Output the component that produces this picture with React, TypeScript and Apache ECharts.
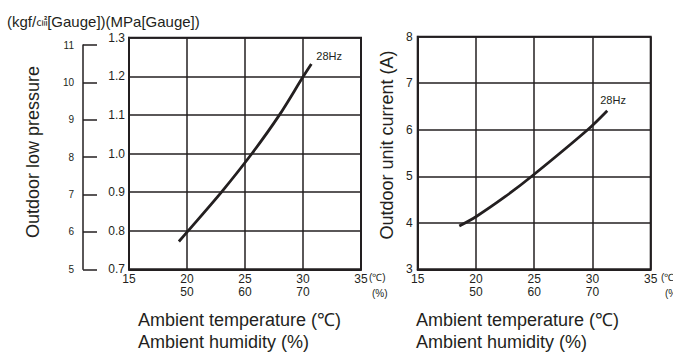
import React, { useEffect, useRef } from "react";
import * as echarts from "echarts";

const X_MIN = 15;
const X_MAX = 35;
const X_STEP = 5;
const HUMIDITY_BY_TEMP: Record<number, string> = { 20: "50", 25: "60", 30: "70" };

const PRESSURE_MPA_MIN = 0.7;
const PRESSURE_MPA_MAX = 1.3;
const PRESSURE_KGF_MIN = 5;
const PRESSURE_KGF_MAX = 11;
const CURRENT_MIN = 3;
const CURRENT_MAX = 8;

const pressureTemps = [19.3, 20.11, 22.97, 25.6, 27.97, 30.03, 30.72];
const pressureValues = [0.772, 0.8, 0.9, 1.0, 1.1, 1.2, 1.232];
const currentTemps = [18.57, 20, 22.5, 24.79, 29.59, 31.27];
const currentValues = [3.93, 4.13, 4.56, 5.0, 6.0, 6.41];

const seriesName = "28Hz";
const titleParts = ["(kgf/", "㎠", "[Gauge])(MPa[Gauge])"];
const leftYName = "Outdoor low pressure";
const rightYName = "Outdoor unit current (A)";
const xName1 = "Ambient temperature (℃)";
const xName2 = "Ambient humidity (%)";

const INK = "#231f20";
const FONT = "Liberation Sans, Arial, Helvetica, sans-serif";

function xLabel(v: number) {
  const h = HUMIDITY_BY_TEMP[v];
  return h ? `${v}\n${h}` : `${v}`;
}

export default function App() {
  const ref = useRef<HTMLDivElement>(null);
  useEffect(() => {
    document.body.style.margin = "0";
    const chart = echarts.init(ref.current!, null, { renderer: "svg" });
    const xAxisBase = (gridIndex: number) => ({
      type: "value",
      gridIndex,
      min: X_MIN,
      max: X_MAX,
      interval: X_STEP,
      axisLine: { show: true, lineStyle: { color: INK, width: 2 } },
      axisTick: { show: false },
      splitLine: { show: true, lineStyle: { color: INK, width: 1.5 } },
      axisLabel: {
        formatter: xLabel,
        color: INK,
        fontFamily: FONT,
        fontSize: 12,
        lineHeight: 13,
        margin: 3,
        showMaxLabel: true,
        showMinLabel: true,
      },
    });
    const lineSeries = (axisIndex: number, xs: number[], ys: number[], offset: number[]) => ({
      type: "line",
      name: seriesName,
      xAxisIndex: axisIndex,
      yAxisIndex: axisIndex,
      data: xs.map((t, i) => [t, ys[i]]),
      smooth: 0.3,
      showSymbol: false,
      lineStyle: { color: INK, width: 2.8 },
      endLabel: { show: true, formatter: seriesName, color: INK, fontSize: 11, fontFamily: FONT, offset },
    });
    chart.setOption({
      animation: false,
      backgroundColor: "#ffffff",
      textStyle: { fontFamily: FONT },
      grid: [
        { left: 129, top: 37.7, width: 232, height: 231.6, show: true, borderColor: INK, borderWidth: 2, backgroundColor: "transparent" },
        { left: 83, top: 45, width: 14, height: 224.3, show: false },
        { left: 417.7, top: 36.7, width: 233, height: 232.6, show: true, borderColor: INK, borderWidth: 2, backgroundColor: "transparent" },
      ],
      xAxis: [
        xAxisBase(0),
        { type: "value", gridIndex: 1, min: 0, max: 1, show: false },
        xAxisBase(2),
      ],
      yAxis: [
        {
          type: "value",
          gridIndex: 0,
          min: PRESSURE_MPA_MIN,
          max: PRESSURE_MPA_MAX,
          interval: 0.1,
          axisLine: { show: true, lineStyle: { color: INK, width: 2 } },
          axisTick: { show: false },
          splitLine: { show: true, lineStyle: { color: INK, width: 1.5 } },
          axisLabel: { formatter: (v: number) => v.toFixed(1), color: INK, fontSize: 12, margin: 4, fontFamily: FONT },
        },
        {
          type: "value",
          gridIndex: 1,
          min: PRESSURE_KGF_MIN,
          max: PRESSURE_KGF_MAX,
          interval: 1,
          axisLine: { show: true, lineStyle: { color: INK, width: 1.5 } },
          axisTick: { show: true, inside: true, length: 14, lineStyle: { color: INK, width: 1.5 } },
          splitLine: { show: false },
          axisLabel: { color: INK, fontSize: 10, margin: 9, fontFamily: FONT },
        },
        {
          type: "value",
          gridIndex: 2,
          min: CURRENT_MIN,
          max: CURRENT_MAX,
          interval: 1,
          axisLine: { show: true, lineStyle: { color: INK, width: 2 } },
          axisTick: { show: false },
          splitLine: { show: true, lineStyle: { color: INK, width: 1.5 } },
          axisLabel: { color: INK, fontSize: 12, margin: 5, fontFamily: FONT },
        },
      ],
      series: [
        lineSeries(0, pressureTemps, pressureValues, [-3, -8]),
        lineSeries(2, currentTemps, currentValues, [-15, -11]),
      ],
      graphic: [
        {
          type: "text",
          x: 7,
          y: 21,
          style: {
            text: `{a|${titleParts[0]}}{b|${titleParts[1]}}{a|${titleParts[2]}}`,
            fill: INK,
            verticalAlign: "middle",
            rich: {
              a: { fontSize: 15, fontFamily: FONT, fill: INK },
              b: { fontSize: 11, fontFamily: "Noto Sans CJK JP", fill: INK },
            },
          },
        },
        { type: "text", x: 33, y: 152, rotation: Math.PI / 2, style: { text: leftYName, fill: INK, fontSize: 18, fontFamily: FONT, align: "center", verticalAlign: "middle" } },
        { type: "text", x: 387, y: 145, rotation: Math.PI / 2, style: { text: rightYName, fill: INK, fontSize: 18, fontFamily: FONT, align: "center", verticalAlign: "middle" } },
        { type: "text", x: 369, y: 277, style: { text: "(℃)", fill: INK, fontSize: 10, fontFamily: FONT, verticalAlign: "middle" } },
        { type: "text", x: 372, y: 293, style: { text: "(%)", fill: INK, fontSize: 10, fontFamily: FONT, verticalAlign: "middle" } },
        { type: "text", x: 661, y: 277, style: { text: "(℃)", fill: INK, fontSize: 10, fontFamily: FONT, verticalAlign: "middle" } },
        { type: "text", x: 665, y: 293, style: { text: "(%)", fill: INK, fontSize: 10, fontFamily: FONT, verticalAlign: "middle" } },
        { type: "text", x: 138, y: 320, style: { text: xName1, fill: INK, fontSize: 18, fontFamily: FONT, verticalAlign: "middle" } },
        { type: "text", x: 138, y: 342, style: { text: xName2, fill: INK, fontSize: 18, fontFamily: FONT, verticalAlign: "middle" } },
        { type: "text", x: 416, y: 320, style: { text: xName1, fill: INK, fontSize: 18, fontFamily: FONT, verticalAlign: "middle" } },
        { type: "text", x: 416, y: 342, style: { text: xName2, fill: INK, fontSize: 18, fontFamily: FONT, verticalAlign: "middle" } },
      ],
    });
    return () => chart.dispose();
  }, []);
  return <div ref={ref} style={{ width: 673, height: 352 }} />;
}
